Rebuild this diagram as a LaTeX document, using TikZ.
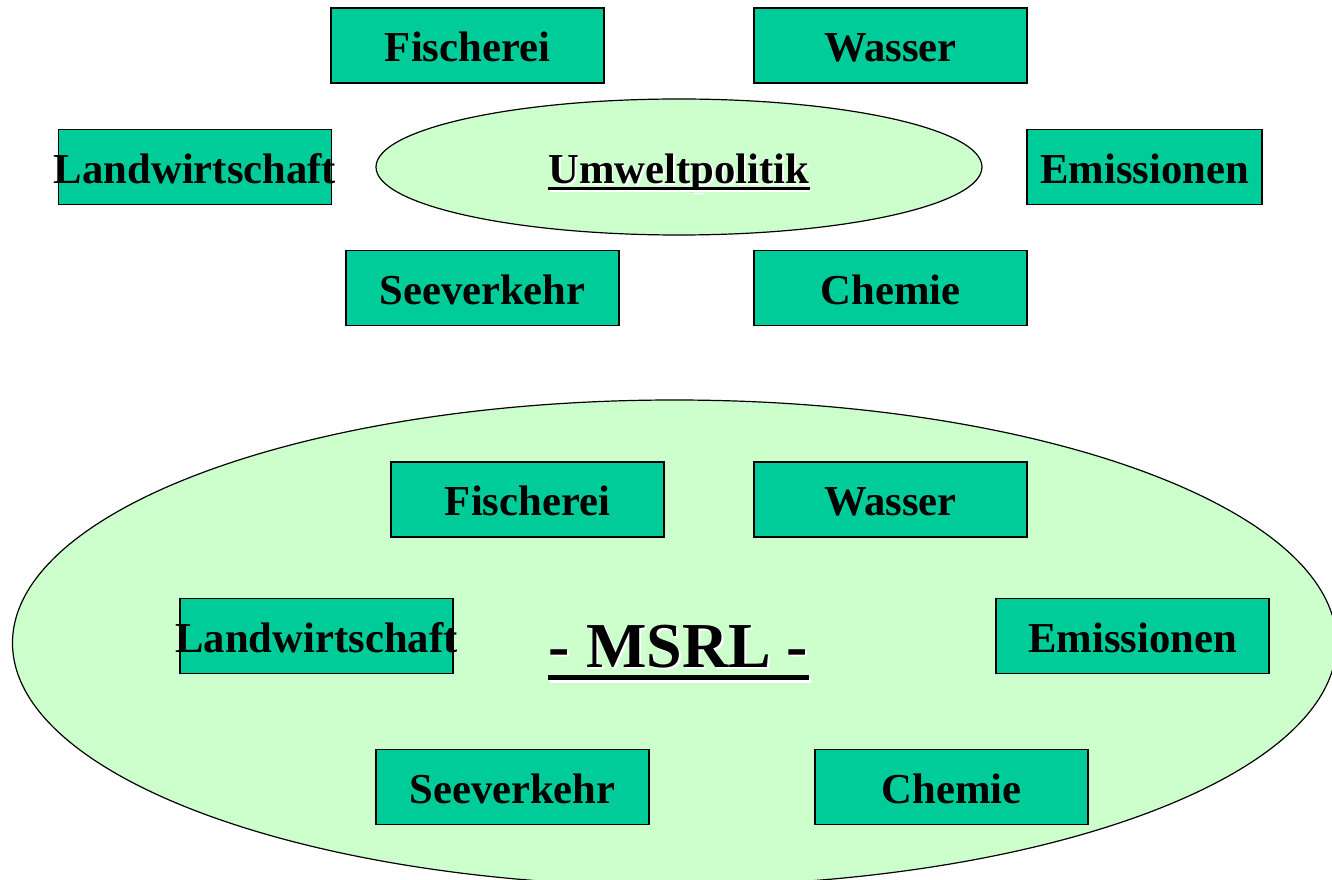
\documentclass[tikz,border=0pt]{standalone}
\usepackage{fontspec}
\setmainfont{Liberation Serif}
\usetikzlibrary{shapes.geometric,calc}
\definecolor{boxgreen}{HTML}{00CC99}
\definecolor{lightgreen}{HTML}{CCFFCC}
\newcommand{\overhang}[1]{\makebox[0pt][c]{#1}}
\tikzset{
  topic/.style={draw=black, line width=1.3pt, fill=boxgreen, minimum width=204.75pt,
    minimum height=56.25pt, inner sep=0pt, text height=24.75pt, text depth=0pt,
    font=\fontsize{32}{38}\selectfont\bfseries},
  oval/.style={ellipse, draw=black, line width=0.9pt, fill=lightgreen, inner sep=0pt},
  title/.style={inner sep=0pt, anchor=base, font=\fontsize{32}{38}\selectfont\bfseries},
  bigtitle/.style={inner sep=0pt, anchor=base, font=\fontsize{48}{56}\selectfont\bfseries},
}
\begin{document}
\begin{tikzpicture}[x=0.75pt,y=-0.75pt]
\useasboundingbox (0,0) rectangle (1332,880);
\clip (0,0) rectangle (1332,880);
% upper part
\node[oval, minimum width=454.5pt, minimum height=102pt] (pol) at (679,167) {};
\node[title, white] (polsh) at (680.5,185.5) {Umweltpolitik};
\node[title] (polt) at (679,184) {Umweltpolitik};
\fill[white] ($(polsh.base west)+(0,4)$) rectangle ($(polsh.base east)+(0,7)$);
\fill[black] ($(polt.base west)+(0,3.5)$) rectangle ($(polt.base east)+(0,6.5)$);
\node[topic] (f1) at (467.5,45.5) {Fischerei};
\node[topic] (w1) at (890.5,45.5) {Wasser};
\node[topic] (l1) at (195,167) {\overhang{Landwirtschaft}};
\node[topic, minimum width=176.25pt] (e1) at (1144.5,167) {Emissionen};
\node[topic] (s1) at (482.5,288) {Seeverkehr};
\node[topic] (c1) at (890.5,288) {Chemie};
% lower part
\node[oval, minimum width=993pt, minimum height=364.5pt] (msrl) at (674.5,643) {};
\node[bigtitle, white] (msh) at (680.5,669) {- MSRL -};
\node[bigtitle] (mt) at (678.5,667) {- MSRL -};
\fill[white] ($(msh.base west)+(0,9)$) rectangle ($(msh.base east)+(0,14)$);
\fill[black] ($(mt.base west)+(0,8)$) rectangle ($(mt.base east)+(0,13)$);
\node[topic] (f2) at (527.5,499.5) {Fischerei};
\node[topic] (w2) at (890.5,499.5) {Wasser};
\node[topic] (l2) at (316.5,636) {\overhang{Landwirtschaft}};
\node[topic] (e2) at (1132.5,636) {Emissionen};
\node[topic] (s2) at (512.5,787) {Seeverkehr};
\node[topic] (c2) at (951.5,787) {Chemie};
\end{tikzpicture}
\end{document}
